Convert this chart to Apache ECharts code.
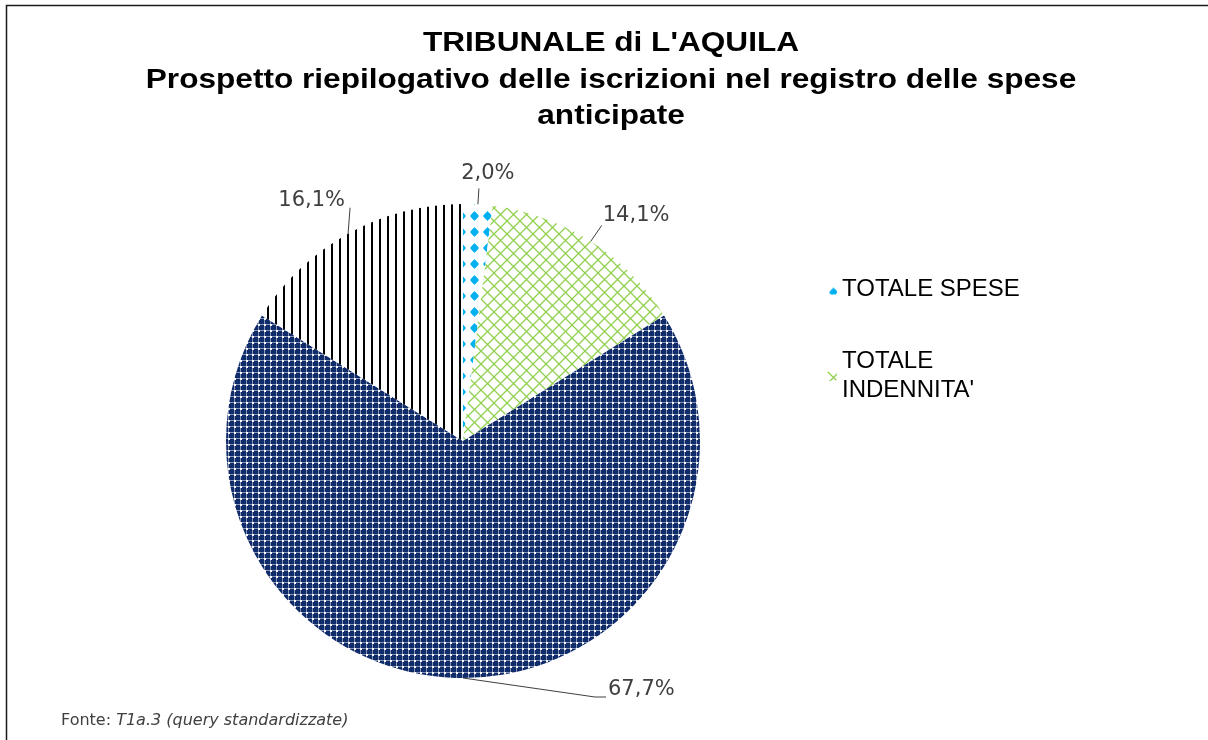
<!DOCTYPE html>
<html>
<head>
<meta charset="utf-8">
<script src="https://cdn.jsdelivr.net/npm/echarts@6/dist/echarts.min.js"></script>
<style>
  html, body { margin: 0; padding: 0; background: #fff; overflow: hidden; }
  #chart { width: 1208px; height: 740px; }
</style>
</head>
<body>
<div id="chart"></div>
<script>
const categories = ["TOTALE SPESE", "TOTALE INDENNITA'", "TOTALE ONORARI", "TOTALE ALTRO"];
const percentages = [2.0, 14.1, 67.7, 16.1];
const legendNames = ["TOTALE SPESE", "TOTALE INDENNITA'"];
const titleLines = ["TRIBUNALE di L'AQUILA", "Prospetto riepilogativo delle iscrizioni nel registro delle spese", "anticipate"];

// small canvas tiles to mimic the Excel pattern fills
function makePattern(w, h, draw) {
  const c = document.createElement("canvas");
  c.width = w;
  c.height = h;
  const ctx = c.getContext("2d");
  ctx.fillStyle = "#ffffff";
  ctx.fillRect(0, 0, w, h);
  draw(ctx, w, h);
  return { image: c, repeat: "repeat" };
}

const dotsBlue = makePattern(13, 16, (ctx) => {
  ctx.fillStyle = "#00B0F0";
  ctx.beginPath();
  ctx.moveTo(6.5, 3);
  ctx.lineTo(11, 8);
  ctx.lineTo(6.5, 13);
  ctx.lineTo(2, 8);
  ctx.closePath();
  ctx.fill();
  ctx.beginPath();
  ctx.arc(6.5, 8, 3.2, 0, Math.PI * 2);
  ctx.fill();
});

const trellisGreen = makePattern(13, 13, (ctx, w, h) => {
  ctx.strokeStyle = "#92D050";
  ctx.lineWidth = 1.3;
  ctx.beginPath();
  ctx.moveTo(0, 0); ctx.lineTo(w, h);
  ctx.moveTo(w, 0); ctx.lineTo(0, h);
  ctx.stroke();
});

const gridNavy = makePattern(6, 6, (ctx) => {
  ctx.fillStyle = "#102B6A";
  ctx.fillRect(0, 0, 6, 6);
  ctx.fillStyle = "rgba(255,255,255,0.5)";
  ctx.fillRect(0, 0, 6, 1);
  ctx.fillRect(0, 0, 1, 6);
  ctx.fillStyle = "rgba(255,255,255,0.95)";
  ctx.fillRect(0, 0, 2, 2);
});

const stripesBlack = makePattern(8, 4, (ctx) => {
  ctx.fillStyle = "#000000";
  ctx.fillRect(3, 0, 2, 4);
});

const fills = [dotsBlue, trellisGreen, gridNavy, stripesBlack];

const pieData = categories.map((name, i) => ({
  name: name,
  value: percentages[i],
  itemStyle: { color: fills[i] }
}));

// nudge each label next to its slice, Excel style
function placeLabel(params) {
  const pts = params.labelLinePoints;
  if (!pts) return {};
  const a = pts[0];
  const i = params.dataIndex;
  if (i === 0) {
    return { x: a[0] + 10, y: a[1] - 31, align: "center", verticalAlign: "middle",
      labelLinePoints: [a, [a[0] + 1, a[1] - 16], [a[0] + 1, a[1] - 16]] };
  }
  if (i === 1) {
    return { x: a[0] + 12, y: a[1] - 26, align: "left", verticalAlign: "middle",
      labelLinePoints: [a, [a[0] + 11, a[1] - 16], [a[0] + 11, a[1] - 16]] };
  }
  if (i === 2) {
    return { x: a[0] + 145, y: a[1] + 12, align: "left", verticalAlign: "middle",
      labelLinePoints: [a, [a[0] + 132, a[1] + 19], [a[0] + 143, a[1] + 19]] };
  }
  return { x: a[0] - 3, y: a[1] - 33, align: "right", verticalAlign: "middle",
    labelLinePoints: [a, [a[0] + 2, a[1] - 26], [a[0] + 2, a[1] - 26]] };
}

const chart = echarts.init(document.getElementById("chart"));

const option = {
  animation: false,
  backgroundColor: "#ffffff",
  title: {
    text: "{n|Fonte: }{i|T1a.3 (query standardizzate)}",
    left: 61,
    top: 713,
    padding: 0,
    textStyle: {
      fontWeight: "normal",
      rich: {
        n: { fontFamily: "DejaVu Sans", fontSize: 16, color: "#404040", fontWeight: "normal" },
        i: { fontFamily: "DejaVu Sans", fontSize: 16, color: "#404040", fontWeight: "normal", fontStyle: "italic" }
      }
    }
  },
  legend: {
    data: legendNames,
    orient: "vertical",
    left: 822,
    top: 270,
    itemWidth: 10,
    itemHeight: 10,
    itemGap: 43,
    selectedMode: false,
    textStyle: {
      fontFamily: "Liberation Sans",
      fontSize: 24,
      color: "#000000",
      width: 195,
      overflow: "break",
      lineHeight: 29,
      padding: [0, 0, 0, 0]
    }
  },
  graphic: [
    {
      type: "polyline",
      silent: true,
      shape: { points: [[6.5, 760], [6.5, 5.5], [1230, 5.5]] },
      style: { stroke: "#1a1a1a", lineWidth: 1.5, fill: null }
    }
  ].concat(titleLines.map((t, k) => ({
    type: "text",
    x: 611,
    y: 44 + k * 36.5,
    scaleX: 1.17,
    silent: true,
    style: {
      text: t,
      font: "bold 27px 'Liberation Sans'",
      fill: "#000000",
      align: "center",
      textAlign: "center",
      verticalAlign: "middle",
      textVerticalAlign: "middle"
    }
  }))),
  series: [
    {
      type: "pie",
      center: [463, 441],
      radius: 237,
      startAngle: 90,
      clockwise: true,
      data: pieData,
      emphasis: { disabled: true },
      itemStyle: { borderWidth: 0 },
      label: {
        show: true,
        position: "outside",
        formatter: (p) => p.value.toFixed(1).replace(".", ",") + "%",
        fontFamily: "DejaVu Sans",
        fontSize: 21,
        color: "#404040"
      },
      labelLine: {
        show: true,
        length: 15,
        length2: 10,
        lineStyle: { color: "#404040", width: 1 }
      },
      labelLayout: placeLabel
    }
  ]
};

chart.setOption(option);
</script>
</body>
</html>
